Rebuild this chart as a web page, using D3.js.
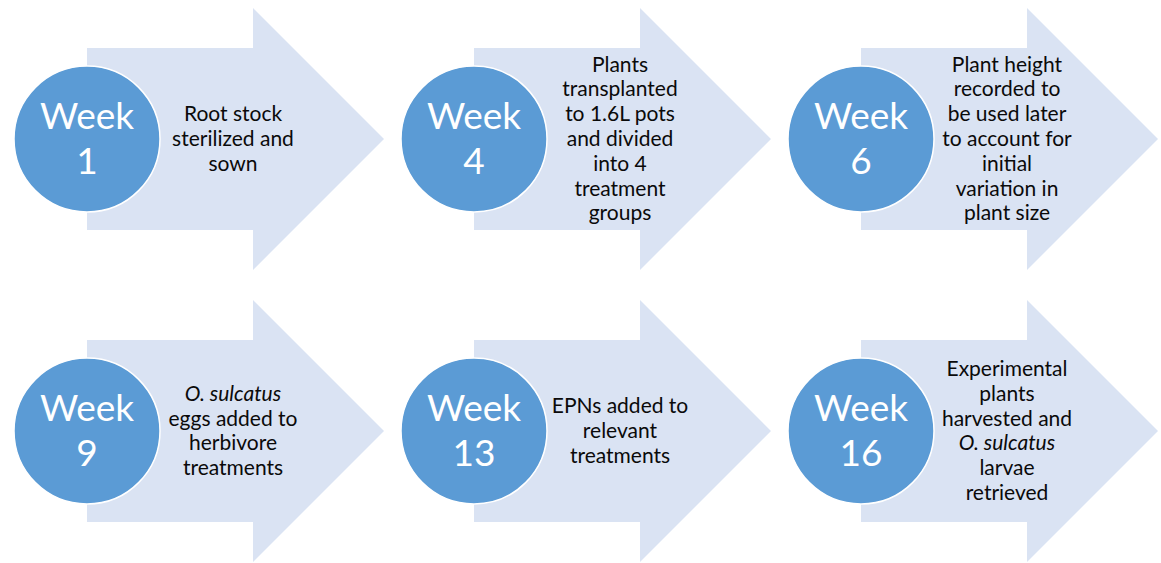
<!DOCTYPE html>
<html>
<head>
<meta charset="utf-8">
<script src="https://cdn.jsdelivr.net/npm/d3@7"></script>
<style>
  html, body { margin: 0; padding: 0; background: #ffffff; }
  svg { display: block; }
</style>
</head>
<body>
<svg id="chart" width="1161" height="563"></svg>
<script>
// ---- data ----
const weeks = ["1", "4", "6", "9", "13", "16"];
const descriptions = [
  [["Root stock"], ["sterilized and"], ["sown"]],
  [["Plants"], ["transplanted"], ["to 1.6L pots"], ["and divided"], ["into 4"], ["treatment"], ["groups"]],
  [["Plant height"], ["recorded to"], ["be used later"], ["to account for"], ["initial"], ["variation in"], ["plant size"]],
  [["O. sulcatus", "i"], ["eggs added to"], ["herbivore"], ["treatments"]],
  [["EPNs added to"], ["relevant"], ["treatments"]],
  [["Experimental"], ["plants"], ["harvested and"], ["O. sulcatus", "i"], ["larvae"], ["retrieved"]]
];
const weekLabel = "Week";

// ---- layout ----
const svg = d3.select("#chart");
const col = d3.scalePoint().domain([0, 1, 2]).range([87, 861]);
const row = d3.scalePoint().domain([0, 1]).range([139, 431]);

const bodyHalf = 91, bodyLen = 166, headHalf = 131, headLen = 131;
const R = 73;
const circleFill = "#5b9bd5", arrowFill = "#dae3f3";

const items = weeks.map((w, i) => ({
  week: w, lines: descriptions[i],
  cx: col(i % 3), cy: row(Math.floor(i / 3))
}));

const g = svg.selectAll("g.step").data(items).join("g")
  .attr("class", "step")
  .attr("transform", d => `translate(${d.cx},${d.cy})`);

const line = d3.line();
g.append("path")
  .attr("d", () => line([
    [0, -bodyHalf], [bodyLen, -bodyHalf], [bodyLen, -headHalf],
    [bodyLen + headLen, 0], [bodyLen, headHalf], [bodyLen, bodyHalf], [0, bodyHalf]
  ]) + "Z")
  .attr("fill", arrowFill);

g.append("circle")
  .attr("r", R)
  .attr("fill", circleFill)
  .attr("stroke", "#ffffff")
  .attr("stroke-width", 1.5);

const wt = g.append("text")
  .attr("text-anchor", "middle")
  .attr("fill", "#ffffff")
  .style("font-family", "Lato, 'Open Sans', sans-serif")
  .style("font-size", "37px");
wt.append("tspan").attr("x", 0).attr("y", -10).text(weekLabel);
wt.append("tspan").attr("x", 0).attr("y", 35).text(d => d.week);

const lh = 24.8;
const dt = g.append("text")
  .attr("text-anchor", "middle")
  .attr("fill", "#0a0a0a")
  .style("font-family", "Lato, 'Open Sans', sans-serif")
  .style("font-size", "21px");
dt.selectAll("tspan").data(d => d.lines.map((l, k) => ({ t: l[0], it: l[1] === "i", k, n: d.lines.length })))
  .join("tspan")
  .attr("x", 146)
  .attr("y", d => (d.k - (d.n - 1) / 2) * lh + 7)
  .style("font-style", d => d.it ? "italic" : "normal")
  .text(d => d.t);
</script>
</body>
</html>
